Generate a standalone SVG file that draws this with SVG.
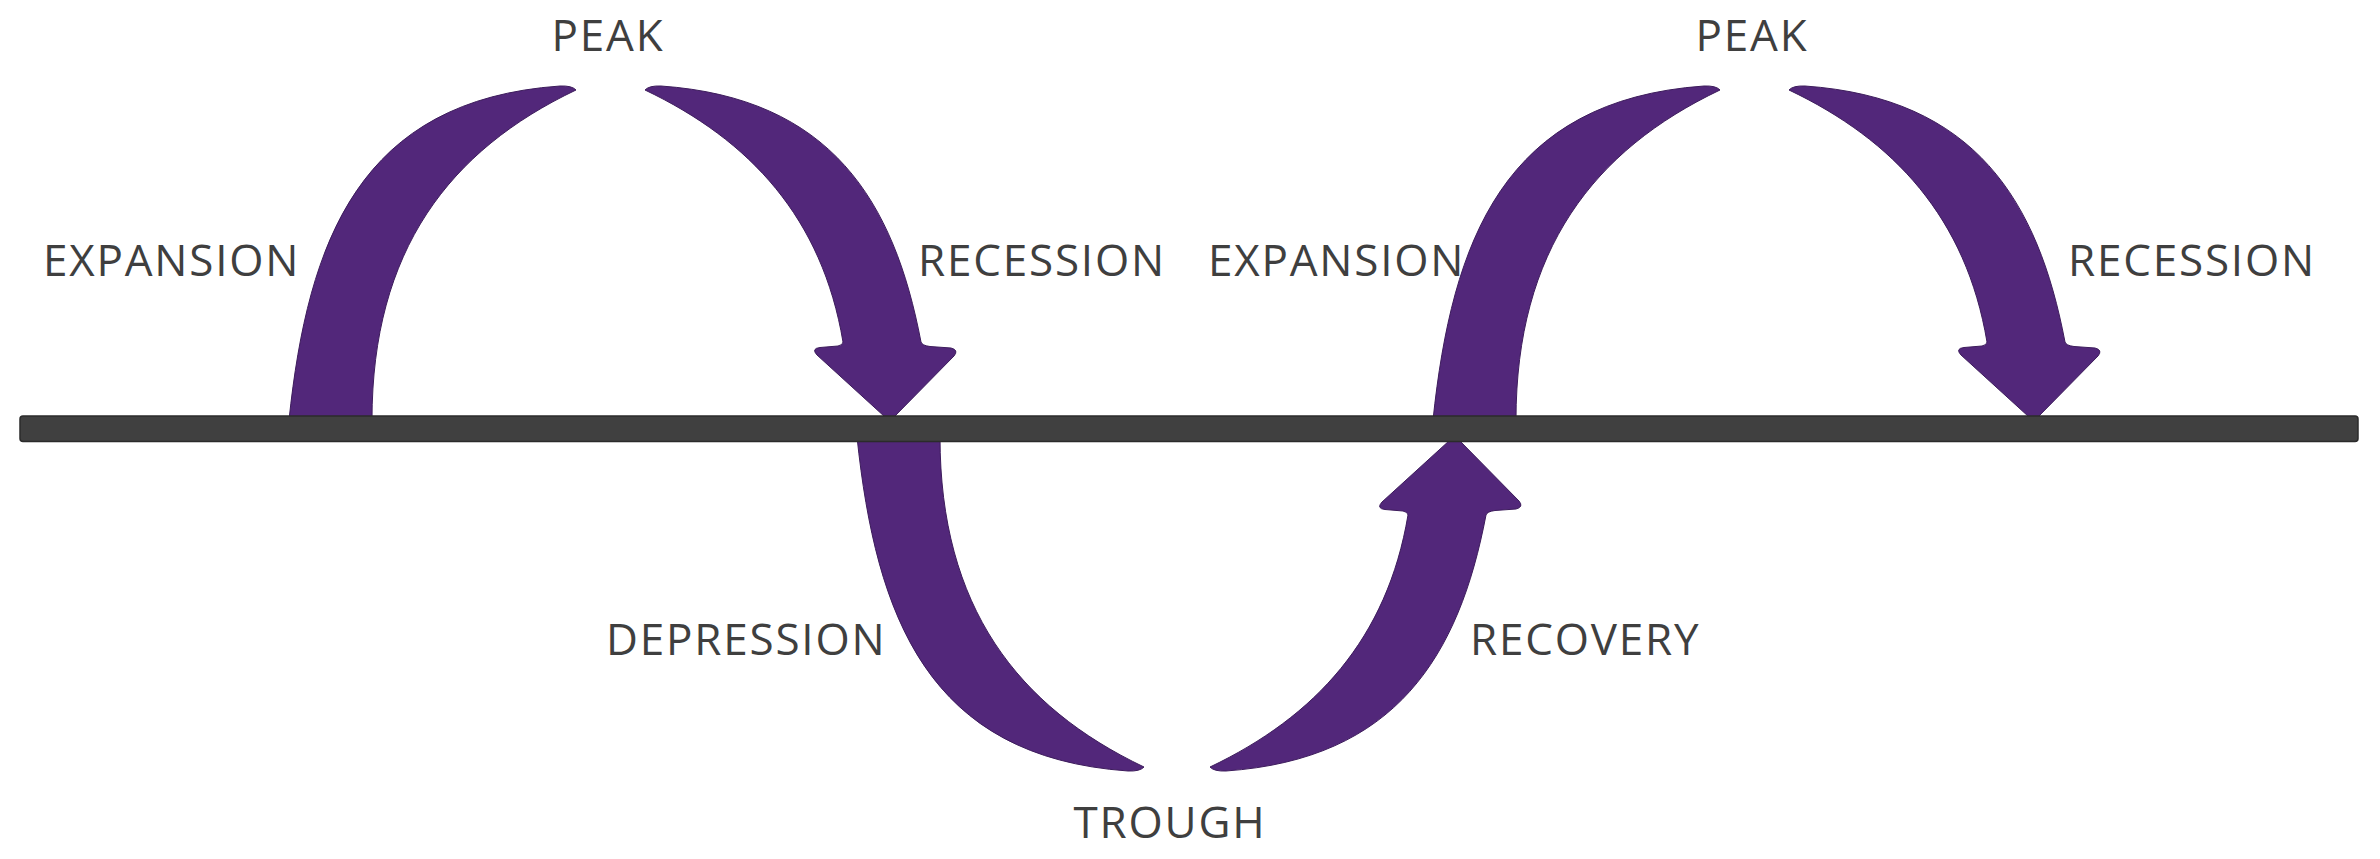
<svg xmlns="http://www.w3.org/2000/svg" width="2380" height="859" viewBox="0 0 2380 859">
  <defs>
    <style>
      .arc { fill: #52277a; stroke: #3d1c5c; stroke-width: 1; stroke-linejoin: round; }
      .lbl { font-family: "Open Sans", "Liberation Sans", sans-serif; font-size: 44px; fill: #3f3f3f; letter-spacing: 1.8px; }
      .bar { fill: #404040; stroke: #2b2b2b; stroke-width: 1.5; }
    </style>
    <path id="expArc" d="M 289,420 C 308,240 360,100 560,86 Q 572,85.5 576,90 C 450,150 372,250 372,420 Z"/>
    <path id="recArc" d="M 645,90 Q 649,85.5 661,86 C 831,97.9 894.1,200.8 921,342 Q 922,345.5 930,346.5 L 951,348 Q 959,350 954,356 L 894,417 L 885,417 L 817,355 Q 811,348.5 820,347.5 L 838,346 Q 843,345 843,342 C 822.3,218.5 750.5,140.2 645,90 Z"/>
  </defs>
  <rect width="2380" height="859" fill="#ffffff"/>

  <g id="connectors">
    <use id="expansion1" href="#expArc" class="arc"/>
    <use id="recession1" href="#recArc" class="arc"/>
    <use id="depression" href="#expArc" class="arc" transform="translate(568,857) scale(1,-1)"/>
    <use id="recovery" href="#recArc" class="arc" transform="translate(565,857) scale(1,-1)"/>
    <use id="expansion2" href="#expArc" class="arc" transform="translate(1144,0)"/>
    <use id="recession2" href="#recArc" class="arc" transform="translate(1144,0)"/>
  </g>

  <g id="axis">
    <rect class="bar" x="20" y="416" width="2338" height="25.5" rx="3"/>
  </g>

  <g id="node-peak1"><text class="lbl" x="608" y="51" text-anchor="middle">PEAK</text></g>
  <g id="node-expansion1"><text class="lbl" x="43" y="276">EXPANSION</text></g>
  <g id="node-recession1"><text class="lbl" x="918" y="276">RECESSION</text></g>
  <g id="node-expansion2"><text class="lbl" x="1208" y="276">EXPANSION</text></g>
  <g id="node-peak2"><text class="lbl" x="1752" y="51" text-anchor="middle">PEAK</text></g>
  <g id="node-recession2"><text class="lbl" x="2068" y="276">RECESSION</text></g>
  <g id="node-depression"><text class="lbl" x="606" y="655">DEPRESSION</text></g>
  <g id="node-recovery"><text class="lbl" x="1470" y="655">RECOVERY</text></g>
  <g id="node-trough"><text class="lbl" x="1170" y="838" text-anchor="middle">TROUGH</text></g>
</svg>
